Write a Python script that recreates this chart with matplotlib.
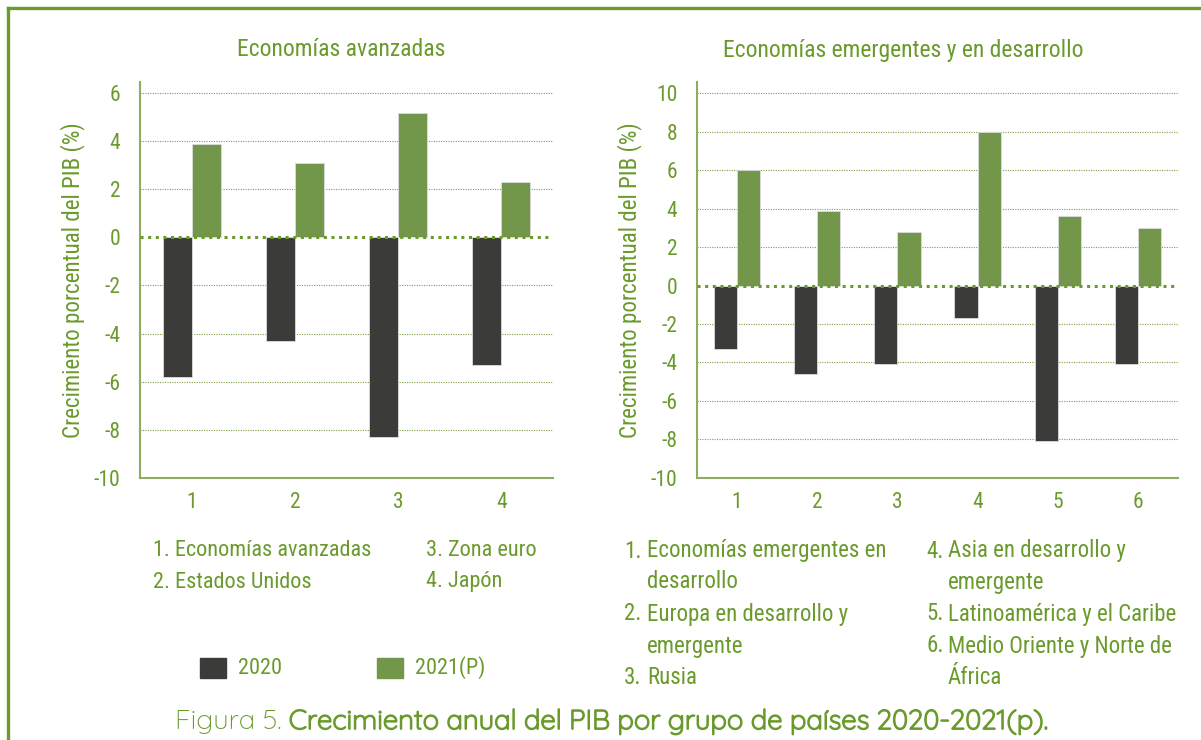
import matplotlib
matplotlib.use('Agg')
import matplotlib.pyplot as plt
import matplotlib.patheffects as pe
import numpy as np
from matplotlib.lines import Line2D
from matplotlib.patches import Rectangle

# Datos (crecimiento del PIB %, 2020 y 2021 proyectado)
cat_avanzadas = ['1', '2', '3', '4']
avanzadas_2020 = [-5.8, -4.3, -8.3, -5.3]
avanzadas_2021 = [3.9, 3.1, 5.2, 2.3]

cat_emergentes = ['1', '2', '3', '4', '5', '6']
emergentes_2020 = [-3.3, -4.6, -4.1, -1.7, -8.1, -4.1]
emergentes_2021 = [6.0, 3.9, 2.8, 8.0, 3.6, 3.0]

ticks_izq = [-10, -8, -6, -4, -2, 0, 2, 4, 6]
ticks_der = [-10, -8, -6, -4, -2, 0, 2, 4, 6, 8, 10]

series = ['2020', '2021(P)']

VERDE_TXT = '#6A9A2C'
VERDE_BAR = '#72964A'
GRIS_BAR = '#3B3B3A'
VERDE_EJE = '#8DAE62'

plt.rcParams['font.family'] = ['Roboto Condensed', 'Barlow Semi Condensed', 'DejaVu Sans']
FUENTE_PIE = ['Quicksand', 'Comfortaa', 'Lato']

W, H = 1201, 740
fig = plt.figure(figsize=(W / 100, H / 100), dpi=100)


def px_ax(x0, x1, y_top, y_bot):
    return [x0 / W, 1 - y_bot / H, (x1 - x0) / W, (y_bot - y_top) / H]


def dibujar(ax, cats, v2020, v2021, ticks, ymax, ancho):
    x = np.arange(1, len(cats) + 1)
    ax.bar(x - ancho, v2020, ancho, align='edge', color=GRIS_BAR,
           edgecolor='#DDDDDD', linewidth=0.6, zorder=3)
    ax.bar(x, v2021, ancho, align='edge', color=VERDE_BAR,
           edgecolor='#DDDDDD', linewidth=0.6, zorder=3)
    ax.set_xlim(0.5, len(cats) + 0.5)
    ax.set_ylim(-10, ymax)
    ax.set_yticks(ticks)
    ax.set_yticklabels([str(t) for t in ticks])
    ax.set_xticks(x)
    ax.set_xticklabels(cats)
    for t in ticks:
        if t == 0 or t == -10:
            continue
        ax.axhline(t, color='#7FA04A', linestyle=(0, (1, 1.2)), linewidth=0.8, zorder=1)
    ax.axhline(0, color='#6A9A2C', linestyle=(0, (1, 1.5)), linewidth=2.2, zorder=4)
    for s in ['top', 'right']:
        ax.spines[s].set_visible(False)
    for s in ['left', 'bottom']:
        ax.spines[s].set_color(VERDE_EJE)
        ax.spines[s].set_linewidth(1.5)
    ax.tick_params(axis='both', length=0, colors=VERDE_TXT, labelsize=15.5)
    ax.tick_params(axis='y', pad=14)
    ax.tick_params(axis='x', pad=10)
    ax.set_ylabel('Crecimiento porcentual del PIB (%)', color=VERDE_TXT, fontsize=16.6, labelpad=6)


ax1 = fig.add_axes(px_ax(140, 553, 82, 477.7))
dibujar(ax1, cat_avanzadas, avanzadas_2020, avanzadas_2021, ticks_izq, 6.47, 0.28)

ax2 = fig.add_axes(px_ax(697, 1178, 82, 477.7))
dibujar(ax2, cat_emergentes, emergentes_2020, emergentes_2021, ticks_der, 10.59, 0.29)

fig.text(341 / W, 1 - 50 / H, 'Economías avanzadas', color=VERDE_TXT, fontsize=17,
         ha='center', va='center')
fig.text(903 / W, 1 - 50 / H, 'Economías emergentes y en desarrollo', color=VERDE_TXT,
         fontsize=17, ha='center', va='center')


# Notas de categorías
def txt(x, y, s, tam=16, **kw):
    fig.text(x / W, 1 - y / H, s, color=VERDE_TXT, fontsize=tam, va='center', ha='left', **kw)


txt(153, 551, '1. Economías avanzadas')
txt(153, 582, '2. Estados Unidos')
txt(426, 551, '3. Zona euro')
txt(426, 582, '4. Japón')

notas_der = [
    (624, 647, 551, '1.', 'Economías emergentes en'),
    (None, 647, 582, None, 'desarrollo'),
    (624, 647, 614, '2.', 'Europa en desarrollo y'),
    (None, 647, 646, None, 'emergente'),
    (624, 647, 678, '3.', 'Rusia'),
    (926, 948, 551, '4.', 'Asia en desarrollo y'),
    (None, 948, 582, None, 'emergente'),
    (926, 948, 614, '5.', 'Latinoamérica y el Caribe'),
    (926, 948, 646, '6.', 'Medio Oriente y Norte de'),
    (None, 948, 678, None, 'África'),
]
for xn, xt, y, num, s in notas_der:
    if num:
        txt(xn, y, num, tam=16.5)
    txt(xt, y, s, tam=16.5)

# Leyenda
for (x0, col, lab) in [(200, GRIS_BAR, series[0]), (377, VERDE_BAR, series[1])]:
    fig.add_artist(Rectangle((x0 / W, 1 - 678 / H), 26 / W, 20 / H,
                             transform=fig.transFigure, color=col))
    txt(x0 + 38, 668, lab)

# Título de la figura
fig.canvas.draw()
r = fig.canvas.get_renderer()
t1 = fig.text(0, 1 - 722 / H, 'Figura 5. ', color=VERDE_TXT, fontsize=19.8,
              family=FUENTE_PIE, va='center', ha='left')
t2 = fig.text(0, 1 - 722 / H, 'Crecimiento anual del PIB por grupo de países 2020-2021(p).',
              color=VERDE_TXT, fontsize=19.8, family=FUENTE_PIE, fontweight='bold',
              va='center', ha='left',
              path_effects=[pe.withStroke(linewidth=1.0, foreground=VERDE_TXT)])
w1 = t1.get_window_extent(r).width
w2 = t2.get_window_extent(r).width
x_ini = 610 - (w1 + w2) / 2
t1.set_x(x_ini / W)
t2.set_x((x_ini + w1) / W)

# Marco
borde = '#6B9A2E'
fig.add_artist(Line2D([8 / W, 8 / W], [0, 1 - 8 / H], transform=fig.transFigure,
                      color=borde, linewidth=2.4))
fig.add_artist(Line2D([8 / W, 1], [1 - 8 / H, 1 - 8 / H], transform=fig.transFigure,
                      color=borde, linewidth=2.4))

fig.savefig('out.png', dpi=100)
